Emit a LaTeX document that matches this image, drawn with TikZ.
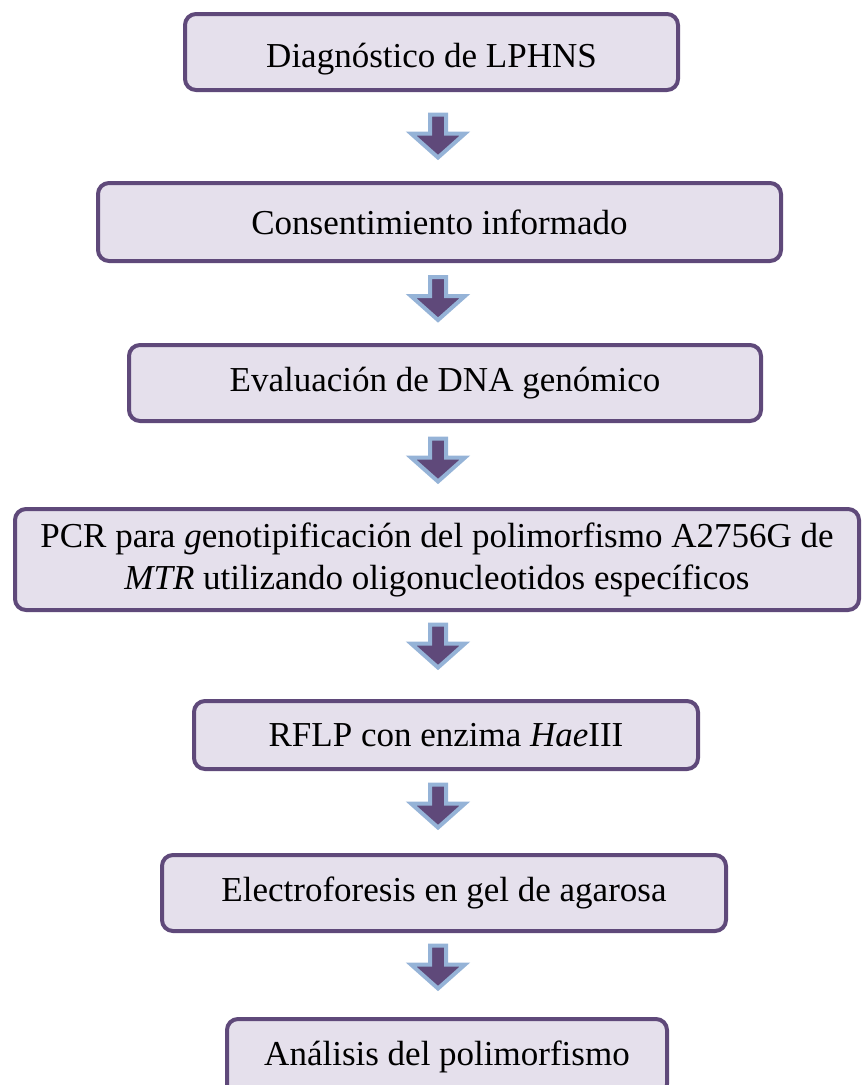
\documentclass[tikz,border=0pt]{standalone}
\usepackage{fontspec}
\setmainfont{Liberation Serif}
\usetikzlibrary{calc}
\definecolor{boxBorder}{RGB}{95,73,122}
\definecolor{boxFill}{RGB}{229,224,236}
\definecolor{arrowFill}{RGB}{95,73,122}
\definecolor{arrowEdge}{RGB}{149,179,215}

\begin{document}
\begin{tikzpicture}[x=1pt, y=-1pt,
    stepbox/.style={rectangle, rounded corners=11pt, draw=boxBorder, line width=4pt, fill=boxFill, font=\fontsize{35}{42}\selectfont, align=center, inner sep=0pt},
    blockarrow/.style={draw=arrowEdge, line width=4pt, fill=arrowFill, line join=miter}]
    \useasboundingbox (0,0) rectangle (863,1085);
    \clip (0,0) rectangle (863,1085);

    % Steps of the protocol
    \node[stepbox, minimum width=493pt, minimum height=76pt, text height=25pt, text depth=8pt] (diag) at (431.5,52) {\raisebox{-7pt}[0pt][0pt]{Diagnóstico de LPHNS}};
    \node[stepbox, minimum width=683pt, minimum height=78pt] (cons) at (439.5,222) {Consentimiento informado};
    \node[stepbox, minimum width=632pt, minimum height=76pt] (dna) at (445,383) {Evaluación de DNA genómico};
    \node[stepbox, minimum width=844pt, minimum height=101pt] (pcr) at (437,559.5) {PCR para \textit{g}enotipificación del polimorfismo A2756G de\\\textit{MTR} utilizando oligonucleotidos específicos};
    \node[stepbox, minimum width=504pt, minimum height=68pt] (rflp) at (446,735) {RFLP con enzima \textit{Hae}III};
    \node[stepbox, minimum width=564pt, minimum height=76pt] (gel) at (444,893) {Electroforesis en gel de agarosa};
    \node[stepbox, minimum width=440pt, minimum height=76pt] (anal) at (447,1057) {Análisis del polimorfismo};

    % Block arrows between the steps
    \coordinate (axis) at (438,0);
    \foreach \a/\b/\s in {diag/cons/0, cons/dna/-4, dna/pcr/-4.5, pcr/rflp/-9, rflp/gel/-5.5, gel/anal/-7.5} {
        \coordinate (m) at ($(\a.south)!.5!(\b.north)$);
        \path (m -| axis) ++(0,\s) coordinate (t);
        \draw[blockarrow] ($(t)+(-8,-22)$) -- ($(t)+(8,-22)$) -- ($(t)+(8,-3)$) -- ($(t)+(27,-3)$)
            -- ($(t)+(0,21)$) -- ($(t)+(-27,-3)$) -- ($(t)+(-8,-3)$) -- cycle;
    }
\end{tikzpicture}
\end{document}
